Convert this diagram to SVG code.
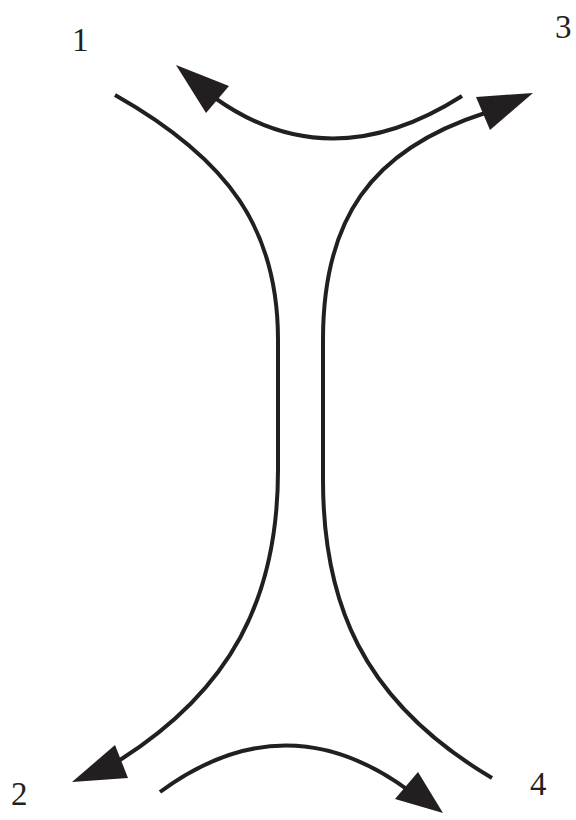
<svg xmlns="http://www.w3.org/2000/svg" width="576" height="820" viewBox="0 0 576 820">
<style>
.c{fill:none;stroke:#231f20;stroke-width:4;stroke-linecap:butt}
.h{fill:#231f20;stroke:none}
.t{font-family:"Liberation Serif",serif;font-size:33px;fill:#231f20}
</style>
<rect width="576" height="820" fill="#fff"/>
<g id="labels">
<text class="t" x="72" y="51">1</text>
<text class="t" x="555" y="38">3</text>
<text class="t" x="11" y="805">2</text>
<text class="t" x="530" y="795">4</text>
</g>
<g id="connectors">
<path class="c" d="M115,95 C230,160 278,230 278,340 L278,470 C278,600 230,690 120,760"/>
<path class="c" d="M492,778 C360,700 323,600 323,480 L323,340 C323,220 370,150 485,113"/>
<path class="c" d="M462,96 Q330,180 215,98"/>
<path class="c" d="M160,792 Q285,700 408,790"/>
<polygon class="h" points="72,782 115,745 128,778"/>
<polygon class="h" points="533,93 476,97 490,130"/>
<polygon class="h" points="176,65 229,86 206,113"/>
<polygon class="h" points="443,813 395,799 418,772"/>
</g>
</svg>
